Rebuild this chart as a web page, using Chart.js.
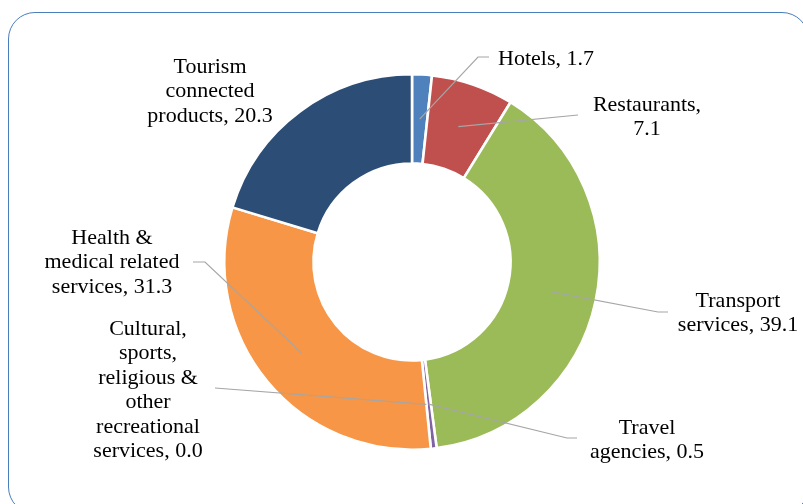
<!DOCTYPE html>
<html>
<head>
<meta charset="utf-8">
<script src="https://cdn.jsdelivr.net/npm/chart.js@4/dist/chart.umd.min.js"></script>
<style>
  html, body { margin: 0; padding: 0; background: #fff; overflow: hidden; }
  #wrap { position: relative; width: 803px; height: 504px; }
  #frame {
    position: absolute; left: 8px; top: 12px; width: 801px; height: 502px;
    border: 1.5px solid #4a7ebb; border-radius: 27px; box-sizing: border-box;
  }
  canvas { position: absolute; left: 0; top: 0; }
</style>
</head>
<body>
<div id="wrap">
  <div id="frame"></div>
  <canvas id="chart" width="803" height="504"></canvas>
</div>
<script>
const categories = [
  'Hotels',
  'Restaurants',
  'Transport services',
  'Travel agencies',
  'Cultural, sports, religious & other recreational services',
  'Health & medical related services',
  'Tourism connected products'
];
const shares = [1.7, 7.1, 39.1, 0.5, 0.0, 31.3, 20.3];
const sliceColors = ['#4f81bd', '#c0504d', '#9bbb59', '#8064a2', '#4bacc6', '#f79646', '#2c4d75'];

// callout layout: words per line, text anchor, first baseline, leader line path
const callouts = [
  { wrap: [2], x: 498, y: 65, align: 'left', path: [[478, 57], [489, 57]] },
  { wrap: [1, 1], x: 647, y: 111, align: 'center', path: [[578, 115]] },
  { wrap: [1, 2], x: 738, y: 307, align: 'center', path: [[658, 312], [668, 312]] },
  { wrap: [1, 2], x: 647, y: 434, align: 'center', path: [[567, 438], [577, 438]] },
  { wrap: [1, 1, 2, 1, 1, 2], x: 148, y: 335, align: 'center', path: [[215, 388]] },
  { wrap: [2, 2, 2], x: 112, y: 244, align: 'center', path: [[205, 262], [193, 262]] },
  { wrap: [1, 1, 2], x: 210, y: 73, align: 'center', path: [] }
];
const lineStep = 24.4;

const calloutPlugin = {
  id: 'callouts',
  afterDatasetsDraw(chart) {
    const ctx = chart.ctx;
    const arcs = chart.getDatasetMeta(0).data;
    ctx.save();
    ctx.font = '22px "Liberation Serif", serif';
    ctx.textBaseline = 'alphabetic';
    callouts.forEach((c, i) => {
      const arc = arcs[i];
      if (c.path.length) {
        const mid = (arc.startAngle + arc.endAngle) / 2;
        const r = (arc.innerRadius + arc.outerRadius) / 2;
        ctx.beginPath();
        ctx.moveTo(arc.x + Math.cos(mid) * r, arc.y + Math.sin(mid) * r);
        c.path.forEach(p => ctx.lineTo(p[0], p[1]));
        ctx.strokeStyle = '#a6a6a6';
        ctx.lineWidth = 1.2;
        ctx.stroke();
      }
      const words = (categories[i] + ', ' + shares[i].toFixed(1)).split(' ');
      let k = 0;
      ctx.fillStyle = '#000';
      ctx.textAlign = c.align;
      c.wrap.forEach((n, li) => {
        const line = words.slice(k, k + n).join(' ');
        k += n;
        ctx.fillText(line, c.x, c.y + li * lineStep);
      });
    });
    ctx.restore();
  }
};

new Chart(document.getElementById('chart'), {
  type: 'doughnut',
  data: {
    labels: categories,
    datasets: [{
      data: shares,
      backgroundColor: sliceColors,
      borderColor: '#ffffff',
      borderWidth: 2.6
    }]
  },
  options: {
    responsive: false,
    animation: false,
    cutout: '52.5%',
    layout: { padding: { top: 73, bottom: 53, left: 21, right: 0 } },
    plugins: {
      legend: { display: false },
      tooltip: { enabled: false }
    }
  },
  plugins: [calloutPlugin]
});
</script>
</body>
</html>
